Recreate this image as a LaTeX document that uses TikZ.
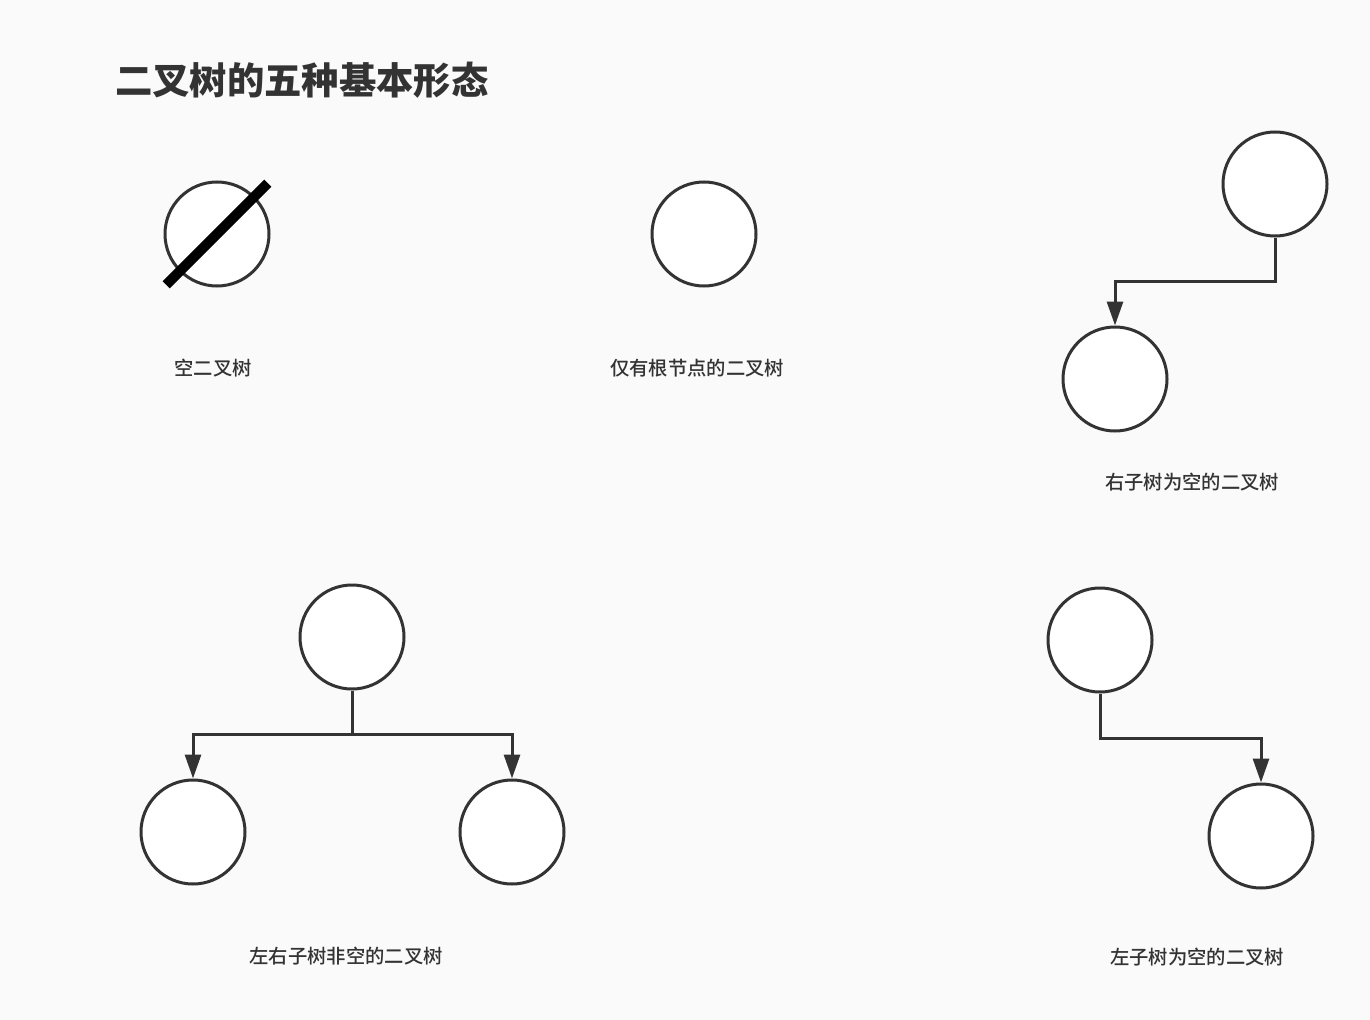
\documentclass[tikz,border=0pt]{standalone}
\usepackage{fontspec}
\setmainfont{Noto Sans CJK SC}
\newfontfamily\cjkmed{Noto Sans CJK SC Medium}
\usetikzlibrary{positioning,calc,arrows.meta}
\definecolor{ink}{HTML}{333333}
\definecolor{paper}{HTML}{FAFAFA}
\tikzset{tnode/.style={circle, draw=ink, line width=2.25pt, fill=white, minimum size=78pt, inner sep=0pt}}
\tikzset{arr/.style={draw=ink, line width=2.25pt, -{Triangle[length=18pt,width=12pt]}}}
\tikzset{lbl/.style={text=ink, font=\cjkmed\fontsize{14.5}{16}\selectfont, inner sep=0pt}}
\tikzset{ttl/.style={text=ink, font=\bfseries\fontsize{28}{32}\selectfont, inner sep=0pt, anchor=west}}

\begin{document}
\begin{tikzpicture}[x=0.75pt, y=-0.75pt]
	\fill[paper] (0,0) rectangle (1370,1020);
	\useasboundingbox (0,0) rectangle (1370,1020);
	\node[ttl] (T) at (115,80) {二叉树的五种基本形态};

	% empty tree
	\node[tnode] (E) at (217,234) {};
	\path (E.south west) ++(-13,13) coordinate (e1)
		(E.north east) ++(13,-13) coordinate (e2);
	\draw[line width=7.5pt, black] (e1) -- (e2);
	\node[lbl] (lE) at (213,368) {空二叉树};

	% root only
	\node[tnode] (R) at (704,234) {};
	\node[lbl] (lR) at (697,368) {仅有根节点的二叉树};

	% only left child
	\node[tnode] (A) at (1275,184) {};
	\node[tnode] (A1) at (1115,379) {};
	\draw[arr] (A.south) |- ($(A)!.5!(A1)$) -| (A1.north);
	\node[lbl] (lA) at (1192,482) {右子树为空的二叉树};

	% both children
	\node[tnode] (B) at (352,637) {};
	\node[tnode] (B1) at (193,832) {};
	\node[tnode] (B2) at (512,832) {};
	\coordinate (bm) at ($(B)!.5!(B1)$);
	\draw[arr] (B.south) |- (bm) -| (B1.north);
	\draw[arr] (B.south) |- (bm) -| (B2.north);
	\node[lbl] (lB) at (346,956) {左右子树非空的二叉树};

	% only right child
	\node[tnode] (C) at (1100,640) {};
	\node[tnode] (C1) at (1261,836) {};
	\draw[arr] (C.south) |- ($(C)!.5!(C1)$) -| (C1.north);
	\node[lbl] (lC) at (1197,957) {左子树为空的二叉树};
\end{tikzpicture}
\end{document}
